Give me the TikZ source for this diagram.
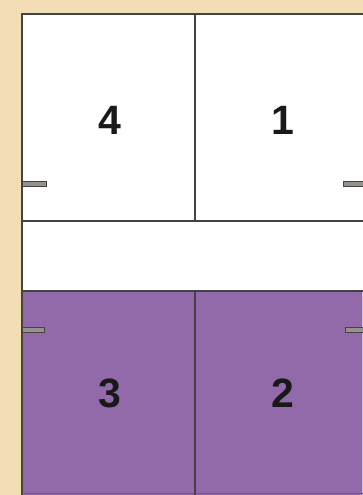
\documentclass[tikz,border=0pt]{standalone}
\usepackage{fontspec}
\setmainfont{Liberation Sans}
\definecolor{beige}{RGB}{243,221,180}
\definecolor{plum}{RGB}{146,106,170}
\definecolor{edge}{RGB}{70,66,66}
\definecolor{tickfill}{RGB}{150,146,142}
\begin{document}
\begin{tikzpicture}[x=1pt,y=-1pt,
  wall/.style={draw=edge,line width=1.6pt},
  divider/.style={draw=edge,line width=1.3pt},
  slot/.style={draw=edge,fill=tickfill,line width=0.9pt},
  num/.style={font=\bfseries\fontsize{41}{41}\selectfont,text=black!90}]
\useasboundingbox (0,0) rectangle (363,495);
\clip (0,0) rectangle (363,495);
\fill[beige] (0,0) rectangle (363,495);
% rooms
\fill[white] (22,14) rectangle (366,291);
\fill[plum] (22,291) rectangle (366,498);
% frame
\draw[wall] (22,498) -- (22,14) -- (366,14);
\draw[white!60!plum,line width=1pt] (362.5,291) -- (362.5,495);
\draw[plum!80!black,line width=0.8pt] (22,493.5) -- (363,493.5);
% dividers
\coordinate (tm) at (195,14);
\coordinate (mm) at (195,221);
\coordinate (bm) at (195,292);
\coordinate (bb) at (195,498);
\coordinate (l1) at (22,221);
\coordinate (r1) at (366,221);
\coordinate (l2) at (22,291);
\coordinate (r2) at (366,291);
\draw[divider] (tm) -- (mm);
\draw[divider] (bm) -- (bb);
\draw[divider] (l1) -- (r1);
\draw[divider] (l2) -- (r2);
% slots
\draw[slot] (22,181) rectangle (46,186);
\draw[slot] (22,327) rectangle (44,332);
\draw[slot] (343,181) rectangle (366,186);
\draw[slot] (345,327) rectangle (366,332);
% labels
\node[num] (n4) at (110,120) {4};
\node[num] (n1) at (283,120) {1};
\node[num] (n3) at (110,393) {3};
\node[num] (n2) at (283,393) {2};
\end{tikzpicture}
\end{document}
